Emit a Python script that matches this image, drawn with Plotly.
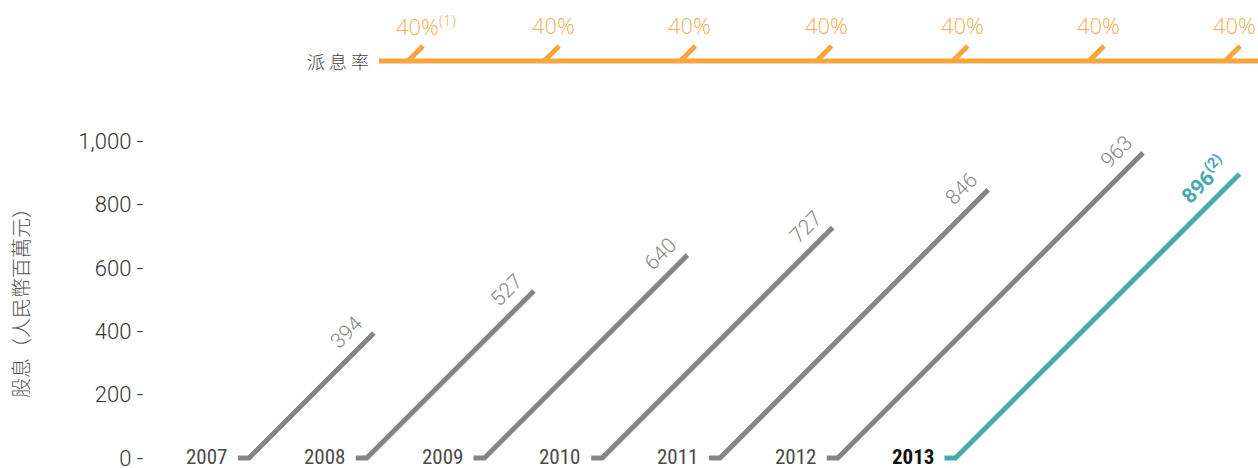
import plotly.graph_objects as go

# ---- data ----
years = ["2007", "2008", "2009", "2010", "2011", "2012", "2013"]
dividends = [394, 527, 640, 727, 846, 963, 896]
value_notes = ["", "", "", "", "", "", "(2)"]
payout_labels = ["40%", "40%", "40%", "40%", "40%", "40%", "40%"]
payout_notes = ["(1)", "", "", "", "", "", ""]
y_ticks = [0, 200, 400, 600, 800, 1000]
y_tick_text = [f"{v:,} -" for v in y_ticks]
highlight_year = "2013"

# ---- layout helpers (pixel geometry) ----
W, H = 1258, 468
ML = 150
PX = 0.317                      # pixels per data unit (same on both axes -> 45 deg lines)
BASE = 458                      # pixel row of y = 0
x_range = [0, (W - ML) / PX]
y_range = [-(H - BASE) / PX, BASE / PX]


def ux(px):
    return (px - ML) / PX


def uy(py):
    return (BASE - py) / PX


def du(n):
    return n / PX


GRAY = "#858585"
TEAL = "#4BA9AD"
ORANGE = "#F9A53E"
ORANGE_TXT = "#F8AE58"

fig = go.Figure()
ann = []

year_first_px, year_step_px, run_px = 238, 117.75, 11
for i, (yr, v) in enumerate(zip(years, dividends)):
    hl = yr == highlight_year
    col = TEAL if hl else GRAY
    x0 = ux(year_first_px + i * year_step_px)
    x1 = x0 + du(run_px)
    fig.add_trace(go.Scatter(x=[x0, x1, x1 + v], y=[0, 0, v], mode="lines",
                             line=dict(color=col, width=5), hoverinfo="skip",
                             showlegend=False))
    ann.append(dict(x=x0, y=0, xref="x", yref="y", xanchor="right", yanchor="middle",
                    xshift=-9, yshift=1, showarrow=False,
                    text=f"<b>{yr}</b>" if hl else yr,
                    font=dict(family="Liberation Sans Narrow, Roboto Condensed, Arial Narrow, sans-serif",
                              size=21, color="#111" if hl else "#4a4a4a")))
    if hl:
        txt = f"<b>{v}</b><sup><b>{value_notes[i]}</b></sup>"
        ann.append(dict(x=x1 + v, y=v, xref="x", yref="y", xanchor="center", yanchor="middle",
                        xshift=-36, yshift=-5, textangle=-45, showarrow=False, text=txt,
                        font=dict(family="Roboto, sans-serif", size=21, color=TEAL)))
    else:
        ann.append(dict(x=x1 + v, y=v, xref="x", yref="y", xanchor="center", yanchor="middle",
                        xshift=-27, yshift=1, textangle=-45, showarrow=False, text=f"{v}",
                        font=dict(family="Roboto, sans-serif", size=21, color="#888888",
                                  weight=300)))

# ---- payout ratio band ----
band_y = uy(61)
band_x0 = ux(379)
fig.add_trace(go.Scatter(x=[band_x0, x_range[1]], y=[band_y, band_y], mode="lines",
                         line=dict(color=ORANGE, width=5), hoverinfo="skip", showlegend=False))
slash_first_px, slash_step_px, slash_px = 408, 136.2, 15
sx, sy = [], []
for i, lab in enumerate(payout_labels):
    b = ux(slash_first_px + i * slash_step_px)
    sx += [b, b + du(slash_px), None]
    sy += [band_y, band_y + du(slash_px), None]
    txt = lab + (f"<sup>{payout_notes[i]}</sup>" if payout_notes[i] else "")
    ann.append(dict(x=b + du(slash_px), y=band_y, xref="x", yref="y", xanchor="left",
                    yanchor="middle", xshift=-29, yshift=36, showarrow=False, text=txt,
                    font=dict(family="Open Sans, sans-serif", size=22, color=ORANGE_TXT,
                              weight=300)))
fig.add_trace(go.Scatter(x=sx, y=sy, mode="lines", line=dict(color=ORANGE, width=5),
                         hoverinfo="skip", showlegend=False))
ann.append(dict(x=band_x0, y=band_y, xref="x", yref="y", xanchor="right", yanchor="middle",
                xshift=-8, yshift=0, showarrow=False, text="派 息 率",
                font=dict(family="Noto Sans CJK TC, sans-serif", size=18, color="#444",
                          weight=300)))

# ---- y-axis title ----
ann.append(dict(x=(20 - ML) / (W - ML), y=1 - 298 / H, xref="paper", yref="paper",
                showarrow=False, text="股息（人民幣百萬元）",
                textangle=-90, xanchor="center", yanchor="middle",
                font=dict(family="Noto Sans CJK TC, sans-serif", size=20, color="#555",
                          weight=300)))

fig.update_layout(
    width=W, height=H, margin=dict(l=ML, r=0, t=0, b=0, autoexpand=False),
    paper_bgcolor="white", plot_bgcolor="white",
    annotations=ann, hovermode=False,
    xaxis=dict(range=x_range, visible=False, fixedrange=True),
    yaxis=dict(range=y_range, tickvals=y_ticks, ticktext=y_tick_text,
               showgrid=False, zeroline=False, showline=False, ticks="",
               ticklabeloverflow="allow", ticklabelstandoff=6,
               tickfont=dict(family="Roboto, sans-serif", size=22, color="#333", weight=300),
               automargin=False, fixedrange=True),
)

fig.write_html("out.html", config={"displayModeBar": False, "staticPlot": True},
               post_script="document.body.style.margin='0';document.body.style.overflow='hidden';")
